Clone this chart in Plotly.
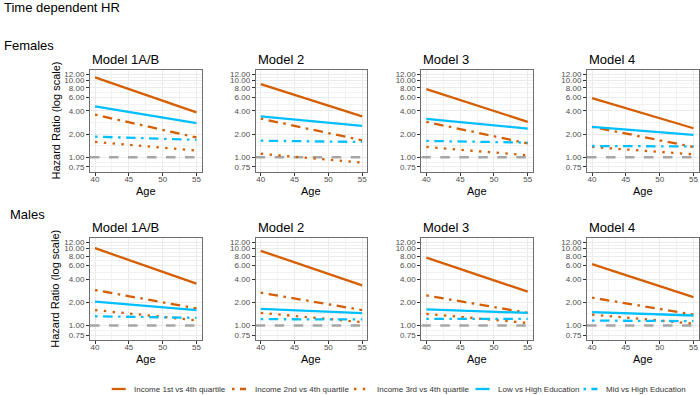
import numpy as np
import plotly.graph_objects as go

# ---------------- data ----------------
AGES = [40, 55]
MODELS = ["Model 1A/B", "Model 2", "Model 3", "Model 4"]
SEXES = ["Females", "Males"]
SERIES = ["Income 1st vs 4th quartile", "Income 2nd vs 4th quartile",
          "Income 3rd vs 4th quartile", "Low vs High Education",
          "Mid vs High Education"]
Y_TICKS = [0.75, 1, 2, 4, 6, 8, 10, 12]
X_TICKS = [40, 45, 50, 55]
REF_HR = 1.0

# hazard ratio at age 40 and age 55, per model
female_inc1 = [[10.9, 3.83], [8.9, 3.40], [7.66, 2.88], [5.85, 2.38]]
female_inc2 = [[3.57, 1.81], [3.17, 1.66], [2.88, 1.51], [2.48, 1.36]]
female_inc3 = [[1.58, 1.22], [1.11, 0.85], [1.36, 1.06], [1.36, 1.09]]
female_low = [[4.57, 2.78], [3.40, 2.55], [3.15, 2.36], [2.48, 1.95]]
female_mid = [[1.85, 1.68], [1.64, 1.58], [1.63, 1.55], [1.40, 1.38]]

male_inc1 = [[10.1, 3.50], [9.34, 3.33], [7.64, 2.75], [6.26, 2.34]]
male_inc2 = [[2.89, 1.67], [2.67, 1.59], [2.46, 1.46], [2.30, 1.39]]
male_inc3 = [[1.59, 1.17], [1.46, 1.11], [1.42, 1.08], [1.39, 1.06]]
male_low = [[2.04, 1.59], [1.65, 1.45], [1.62, 1.46], [1.49, 1.35]]
male_mid = [[1.32, 1.26], [1.21, 1.20], [1.22, 1.22], [1.16, 1.14]]

DATA = {
    "Females": [female_inc1, female_inc2, female_inc3, female_low, female_mid],
    "Males": [male_inc1, male_inc2, male_inc3, male_low, male_mid],
}

# ---------------- styles ----------------
ORANGE = "#D55E00"
BLUE = "#00BFFF"
DASHDOT = "2.5px,5.5px,9.5px,5.5px"
DOTTED = "2.4px,6.4px"
STYLES = [
    dict(color=ORANGE, dash="solid"),
    dict(color=ORANGE, dash=DASHDOT),
    dict(color=ORANGE, dash=DOTTED),
    dict(color=BLUE, dash="solid"),
    dict(color=BLUE, dash=DASHDOT),
]
LW = 2.3
FONT = "Liberation Sans, Arial, Helvetica, sans-serif"

W, H = 700, 395
COL_LEFT = [90, 255.7, 421.3, 587]
PANEL_W = 111.5
ROW_TOP = [69.5, 237.8]
PANEL_H = 102
# legend layout (pixels): key start per entry
LEG_KEY_X = [111.7, 232, 354, 475.5, 583.5]
LEG_KEY_W = 14
LEG_Y = 389

x_span = X_TICKS[-1] - X_TICKS[0]
X_RANGE = [X_TICKS[0] - 0.05 * x_span, X_TICKS[-1] + 0.05 * x_span]
ly = np.log10([min(Y_TICKS), max(Y_TICKS)])
y_span = ly[1] - ly[0]
Y_RANGE = [ly[0] - 0.05 * y_span, ly[1] + 0.05 * y_span]

minor_y = [float(np.sqrt(a * b)) for a, b in zip(Y_TICKS[:-1], Y_TICKS[1:])]
minor_x = [(a + b) / 2 for a, b in zip(X_TICKS[:-1], X_TICKS[1:])]

fig = go.Figure()
layout = dict(
    width=W, height=H, margin=dict(l=0, r=0, t=0, b=0, autoexpand=False),
    paper_bgcolor="white", plot_bgcolor="white",
    font=dict(family=FONT, color="black"),
    showlegend=False,
)


def px_x(v):
    return v / W


def px_y(v):
    return 1 - v / H


annotations = []
shapes = []
for r, sex in enumerate(SEXES):
    for c, model in enumerate(MODELS):
        k = r * 4 + c + 1
        xa = "x" if k == 1 else f"x{k}"
        ya = "y" if k == 1 else f"y{k}"
        # reference line at HR = 1
        fig.add_trace(go.Scatter(
            x=X_RANGE, y=[REF_HR, REF_HR], mode="lines", xaxis=xa, yaxis=ya,
            line=dict(color="#A6A6A6", width=2.6, dash="9.5px,9.5px"),
            showlegend=False, hoverinfo="skip"))
        for s, name in enumerate(SERIES):
            vals = DATA[sex][s][c]
            fig.add_trace(go.Scatter(
                x=AGES, y=vals, mode="lines", name=name, xaxis=xa, yaxis=ya,
                line=dict(color=STYLES[s]["color"], width=LW, dash=STYLES[s]["dash"]),
                showlegend=False))
        x0 = px_x(COL_LEFT[c])
        x1 = px_x(COL_LEFT[c] + PANEL_W)
        y1 = px_y(ROW_TOP[r])
        y0 = px_y(ROW_TOP[r] + PANEL_H)
        common = dict(showline=True, mirror=True, linecolor="#6E6E6E", linewidth=1,
                      ticks="outside", ticklen=3, tickwidth=1, tickcolor="#333333",
                      tickfont=dict(size=8, color="#4D4D4D", family=FONT),
                      showgrid=True, gridcolor="#EBEBEB", gridwidth=1, zeroline=False,
                      automargin=False)
        layout["xaxis" + ("" if k == 1 else str(k))] = dict(
            domain=[x0, x1], anchor=ya, range=X_RANGE, tickmode="array",
            tickvals=X_TICKS, ticktext=[str(v) for v in X_TICKS],
            ticklabelstandoff=-3,
            minor=dict(tickmode="array", tickvals=minor_x, showgrid=True,
                       gridcolor="#F2F2F2", gridwidth=0.6, ticks=""),
            **common)
        layout["yaxis" + ("" if k == 1 else str(k))] = dict(
            domain=[y0, y1], anchor=xa, type="log", range=Y_RANGE, tickmode="array",
            tickvals=Y_TICKS, ticktext=[f"{v:.2f}" for v in Y_TICKS],
            minor=dict(tickmode="array", tickvals=minor_y, showgrid=True,
                       gridcolor="#F2F2F2", gridwidth=0.6, ticks=""),
            **common)
        # panel title
        annotations.append(dict(
            text=model, x=x0, y=px_y(ROW_TOP[r] - 10), xref="paper", yref="paper",
            xanchor="left", yanchor="middle", showarrow=False,
            font=dict(size=13, family=FONT, color="black")))
        # x axis title
        annotations.append(dict(
            text="Age", x=(x0 + x1) / 2, y=px_y(ROW_TOP[r] + PANEL_H + 19.5),
            xref="paper", yref="paper", xanchor="center", yanchor="middle",
            showarrow=False, font=dict(size=11, family=FONT, color="black")))
        # y axis title (first column only)
        if c == 0:
            annotations.append(dict(
                text="Hazard Ratio (log scale)", x=px_x(55), y=(y0 + y1) / 2,
                xref="paper", yref="paper", xanchor="center", yanchor="middle",
                textangle=-90, showarrow=False,
                font=dict(size=11, family=FONT, color="black")))

annotations.append(dict(text="Time dependent HR", x=px_x(2), y=px_y(8), xref="paper",
                        yref="paper", xanchor="left", yanchor="middle", showarrow=False,
                        font=dict(size=13, family=FONT)))
annotations.append(dict(text="Females", x=px_x(1.5), y=px_y(46), xref="paper",
                        yref="paper", xanchor="left", yanchor="middle", showarrow=False,
                        font=dict(size=13, family=FONT)))
annotations.append(dict(text="Males", x=px_x(8), y=px_y(214), xref="paper",
                        yref="paper", xanchor="left", yanchor="middle", showarrow=False,
                        font=dict(size=13, family=FONT)))

# legend (drawn as keys + labels)
for s, name in enumerate(SERIES):
    kx = LEG_KEY_X[s]
    shapes.append(dict(type="line", xref="paper", yref="paper",
                       x0=px_x(kx), x1=px_x(kx + LEG_KEY_W),
                       y0=px_y(LEG_Y), y1=px_y(LEG_Y),
                       line=dict(color=STYLES[s]["color"], width=LW,
                                 dash=STYLES[s]["dash"])))
    annotations.append(dict(text=name, x=px_x(kx + LEG_KEY_W + 6.5), y=px_y(LEG_Y),
                            xref="paper", yref="paper", xanchor="left",
                            yanchor="middle", showarrow=False,
                            font=dict(size=8, family=FONT, color="#333333")))

layout["annotations"] = annotations
layout["shapes"] = shapes

fig.update_layout(**layout)
fig.write_html("out.html", config={"displayModeBar": False},
               post_script="document.body.style.margin='0';document.body.style.overflow='hidden';")
